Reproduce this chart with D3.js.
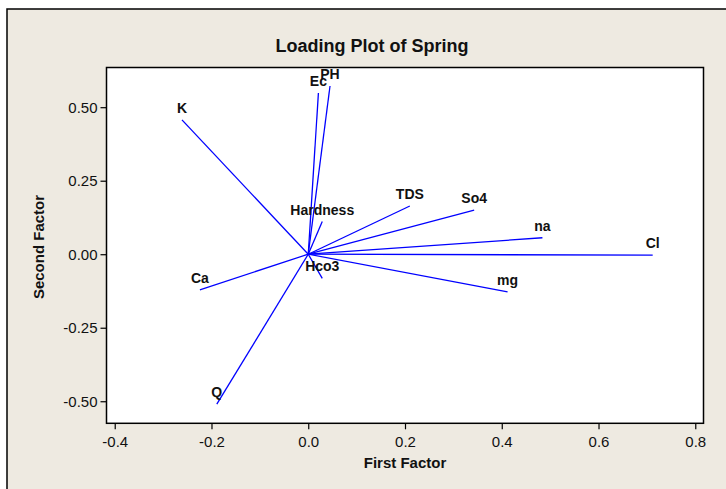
<!DOCTYPE html>
<html>
<head>
<meta charset="utf-8">
<script src="https://cdn.jsdelivr.net/npm/d3@7"></script>
<style>
  body { margin: 0; background: #fff; }
  svg { display: block; font-family: "Liberation Sans", Arial, sans-serif; }
</style>
</head>
<body>
<div id="chart"></div>
<script>
// loading vectors
var variables = ["K", "Ec", "PH", "Hardness", "Hco3", "Ca", "Q", "TDS", "So4", "na", "Cl", "mg"];
var firstFactor  = [-0.261, 0.021, 0.045, 0.029, 0.029, -0.224, -0.189, 0.210, 0.343, 0.484, 0.712, 0.412];
var secondFactor = [0.457, 0.548, 0.572, 0.111, -0.082, -0.121, -0.510, 0.164, 0.150, 0.056, -0.003, -0.128];
var xTicks = [-0.4, -0.2, 0.0, 0.2, 0.4, 0.6, 0.8];
var yTicks = [-0.5, -0.25, 0, 0.25, 0.5];

var width = 726, height = 489;
var plot = {left: 106.5, right: 703.5, top: 67.5, bottom: 423.3};

var svg = d3.select("#chart").append("svg")
    .attr("width", width)
    .attr("height", height);

// beige panel, only top and left border show
svg.append("rect")
    .attr("x", 7).attr("y", 9)
    .attr("width", width + 10).attr("height", height + 10)
    .style("fill", "#eeeae1")
    .style("stroke", "#000")
    .style("stroke-width", 1.5);

var x = d3.scaleLinear().domain([-0.417, 0.817]).range([plot.left, plot.right]);
var y = d3.scaleLinear().domain([-0.575, 0.635]).range([plot.bottom, plot.top]);

// plain hyphen for negatives, like the original
function fmt(p) {
    return function(d) { return d.toFixed(p); };
}

svg.append("rect")
    .attr("x", plot.left).attr("y", plot.top)
    .attr("width", plot.right - plot.left)
    .attr("height", plot.bottom - plot.top)
    .style("fill", "#fff")
    .style("stroke", "#000")
    .style("stroke-width", 1.5);

var xAxis = svg.append("g")
    .attr("transform", "translate(0," + plot.bottom + ")")
    .call(d3.axisBottom(x).tickValues(xTicks).tickFormat(fmt(1)).tickSize(6).tickPadding(7));

var yAxis = svg.append("g")
    .attr("transform", "translate(" + plot.left + ",0)")
    .call(d3.axisLeft(y).tickValues(yTicks).tickFormat(fmt(2)).tickSize(6).tickPadding(3));

[xAxis, yAxis].forEach(function(a) {
    a.select(".domain").remove();
    a.selectAll("line").style("stroke", "#000").style("stroke-width", 1.2);
    a.selectAll("text")
        .style("font-family", "'Liberation Sans', Arial, sans-serif")
        .style("font-size", "15px")
        .style("fill", "#111");
});

var rows = variables.map(function(name, i) {
    return {name: name, f1: firstFactor[i], f2: secondFactor[i]};
});

svg.append("g").selectAll("line")
    .data(rows)
    .enter().append("line")
    .attr("x1", x(0)).attr("y1", y(0))
    .attr("x2", function(d) { return x(d.f1); })
    .attr("y2", function(d) { return y(d.f2); })
    .style("stroke", "#0000ff")
    .style("stroke-width", 1.3);

svg.append("g").selectAll("text")
    .data(rows)
    .enter().append("text")
    .attr("x", function(d) { return x(d.f1); })
    .attr("y", function(d) { return y(d.f2) - 7; })
    .attr("text-anchor", "middle")
    .style("font-size", "14px")
    .style("font-weight", "bold")
    .style("fill", "#111")
    .text(function(d) { return d.name; });

svg.append("text")
    .attr("x", 372).attr("y", 51.5)
    .attr("text-anchor", "middle")
    .style("font-size", "18px")
    .style("font-weight", "bold")
    .style("fill", "#111")
    .text("Loading Plot of Spring");

svg.append("text")
    .attr("x", (plot.left + plot.right) / 2).attr("y", 468)
    .attr("text-anchor", "middle")
    .style("font-size", "15px")
    .style("font-weight", "bold")
    .style("fill", "#111")
    .text("First Factor");

svg.append("text")
    .attr("transform", "translate(44,247) rotate(-90)")
    .attr("text-anchor", "middle")
    .style("font-size", "15px")
    .style("font-weight", "bold")
    .style("fill", "#111")
    .text("Second Factor");
</script>
</body>
</html>
